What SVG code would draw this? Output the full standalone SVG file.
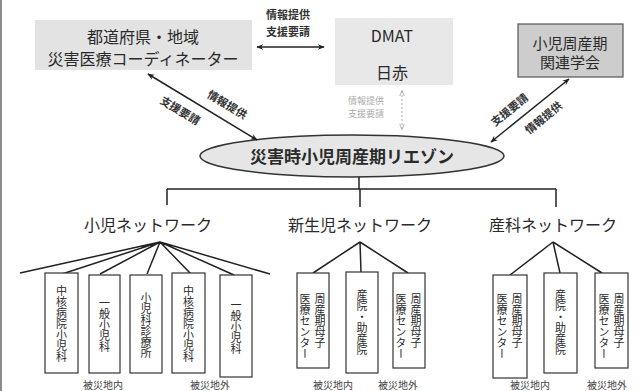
<svg xmlns="http://www.w3.org/2000/svg" width="641" height="391" viewBox="0 0 641 391">
<defs>
<marker id="ah" viewBox="0 0 10 10" refX="9" refY="5" markerWidth="7" markerHeight="7" orient="auto-start-reverse" markerUnits="userSpaceOnUse">
<path d="M0,1 L10,5 L0,9 L3,5 z" fill="#222"/>
</marker>
<marker id="ahg" viewBox="0 0 10 10" refX="9" refY="5" markerWidth="6" markerHeight="6" orient="auto-start-reverse" markerUnits="userSpaceOnUse">
<path d="M0,1 L10,5 L0,9" fill="none" stroke="#aaa" stroke-width="1.5"/>
</marker>
<style>
text{font-family:"Noto Sans CJK JP","Noto Sans",sans-serif;fill:#2a2a2a}
.big{font-size:16px}
.net{font-size:16px}
.lab{font-size:11px;font-weight:bold;fill:#333}
.faint{font-size:9px;fill:#aaa}
.vt{font-size:11px;writing-mode:vertical-rl;text-anchor:middle}
.vs{font-size:11px;writing-mode:vertical-rl;text-anchor:start}
.area{font-size:10px;text-anchor:middle;fill:#444}
.box{fill:#fff;stroke:#333;stroke-width:1.2}
.ln{stroke:#222;stroke-width:1.5;fill:none}
</style>
</defs>
<rect width="641" height="391" fill="#fff"/>
<line x1="1" y1="0" x2="1" y2="391" stroke="#666" stroke-width="1.5"/>

<g id="coordinator">
<rect x="35" y="20" width="217" height="50" fill="#e3e3e3"/>
<text class="big" x="143" y="43" text-anchor="middle">都道府県・地域</text>
<text class="big" x="143" y="65" text-anchor="middle">災害医療コーディネーター</text>
</g>
<g id="dmat">
<rect x="335" y="18" width="118" height="67" fill="#e8e8e8"/>
<text class="big" x="392" y="42" text-anchor="middle" font-size="15">DMAT</text>
<text class="big" x="392" y="79" text-anchor="middle">日赤</text>
</g>
<g id="society">
<rect x="518" y="24" width="105" height="53" fill="#cdcdcd" stroke="#555" stroke-width="1.2"/>
<text x="570" y="49" text-anchor="middle" font-size="15">小児周産期</text>
<text x="570" y="68" text-anchor="middle" font-size="15">関連学会</text>
</g>
<g id="liaison">
<ellipse cx="352" cy="156" rx="152" ry="21" fill="#e6e6e6" stroke="#333" stroke-width="1.5"/>
<text x="352" y="163" text-anchor="middle" font-size="17" font-weight="bold">災害時小児周産期リエゾン</text>
</g>

<g id="connectors">
<line class="ln" x1="257" y1="47" x2="324" y2="47" marker-start="url(#ah)" marker-end="url(#ah)"/>
<text class="lab" x="288" y="19" text-anchor="middle">情報提供</text>
<text class="lab" x="288" y="36" text-anchor="middle">支援要請</text>
<line class="ln" x1="148" y1="74" x2="257" y2="140" marker-start="url(#ah)" marker-end="url(#ah)"/>
<text class="lab" transform="translate(225,108) rotate(31)" text-anchor="middle">情報提供</text>
<text class="lab" transform="translate(178,114) rotate(31)" text-anchor="middle">支援要請</text>
<line class="ln" x1="491" y1="142" x2="569" y2="79" marker-start="url(#ah)" marker-end="url(#ah)"/>
<text class="lab" transform="translate(512,113) rotate(-39)" text-anchor="middle">支援要請</text>
<text class="lab" transform="translate(546,121) rotate(-39)" text-anchor="middle">情報提供</text>
<line x1="402" y1="91" x2="402" y2="129" stroke="#aaa" stroke-width="1" stroke-dasharray="2,2" marker-start="url(#ahg)" marker-end="url(#ahg)"/>
<text class="faint" x="366" y="104" text-anchor="middle">情報提供</text>
<text class="faint" x="366" y="117" text-anchor="middle">支援要請</text>
<path class="ln" d="M359,177 V189 M167,189 H556 M167,189 V205 M360,189 V207 M556,189 V207"/>
<path class="ln" d="M160,242 L20,273 M160,242 L62,274 M160,242 L100,274 M160,242 L147,274 M160,242 L191,274 M160,242 L234,275 M160,242 L270,274"/>
<path class="ln" d="M360,242 L313,273 M360,242 L361,272 M360,242 L408,273"/>
<path class="ln" d="M553,242 L510,275 M553,242 L560,273 M553,242 L602,273"/>
</g>

<g id="net-child">
<text class="net" x="148" y="231" text-anchor="middle">小児ネットワーク</text>
</g>
<g id="net-neonate">
<text class="net" x="360" y="231" text-anchor="middle">新生児ネットワーク</text>
</g>
<g id="net-obst">
<text class="net" x="553" y="231" text-anchor="middle">産科ネットワーク</text>
</g>

<g id="c1"><rect class="box" x="45" y="273" width="33" height="100"/><text class="vt" x="61.5" y="324">中核病院小児科</text></g>
<g id="c2"><rect class="box" x="89" y="275" width="31" height="98"/><text class="vt" x="104.5" y="325">一般小児科</text></g>
<g id="c3"><rect class="box" x="130" y="275" width="32" height="98"/><text class="vt" x="146" y="325">小児科診療所</text></g>
<g id="c4"><rect class="box" x="172" y="273" width="33" height="100"/><text class="vt" x="188.5" y="324">中核病院小児科</text></g>
<g id="c5"><rect class="box" x="220" y="275" width="32" height="102"/><text class="vt" x="236" y="327">一般小児科</text></g>

<g id="n1"><rect class="box" x="297" y="273" width="32" height="95"/><text class="vs" x="320" y="293">周産期母子</text><text class="vs" x="305" y="293">医療センター</text></g>
<g id="n2"><rect class="box" x="346" y="272" width="32" height="101"/><text class="vt" x="362" y="322">産院・助産院</text></g>
<g id="n3"><rect class="box" x="393" y="273" width="32" height="95"/><text class="vs" x="416" y="293">周産期母子</text><text class="vs" x="401" y="293">医療センター</text></g>

<g id="o1"><rect class="box" x="493" y="275" width="34" height="103"/><text class="vs" x="517" y="293">周産期母子</text><text class="vs" x="502" y="293">医療センター</text></g>
<g id="o2"><rect class="box" x="544" y="273" width="33" height="100"/><text class="vt" x="560.5" y="322">産院・助産院</text></g>
<g id="o3"><rect class="box" x="595" y="273" width="33" height="95"/><text class="vs" x="619" y="293">周産期母子</text><text class="vs" x="604" y="293">医療センター</text></g>

<g id="areas">
<text class="area" x="103" y="389">被災地内</text>
<text class="area" x="210" y="389">被災地外</text>
<text class="area" x="333" y="389">被災地内</text>
<text class="area" x="398" y="389">被災地外</text>
<text class="area" x="530" y="389">被災地内</text>
<text class="area" x="607" y="389">被災地外</text>
</g>
</svg>
